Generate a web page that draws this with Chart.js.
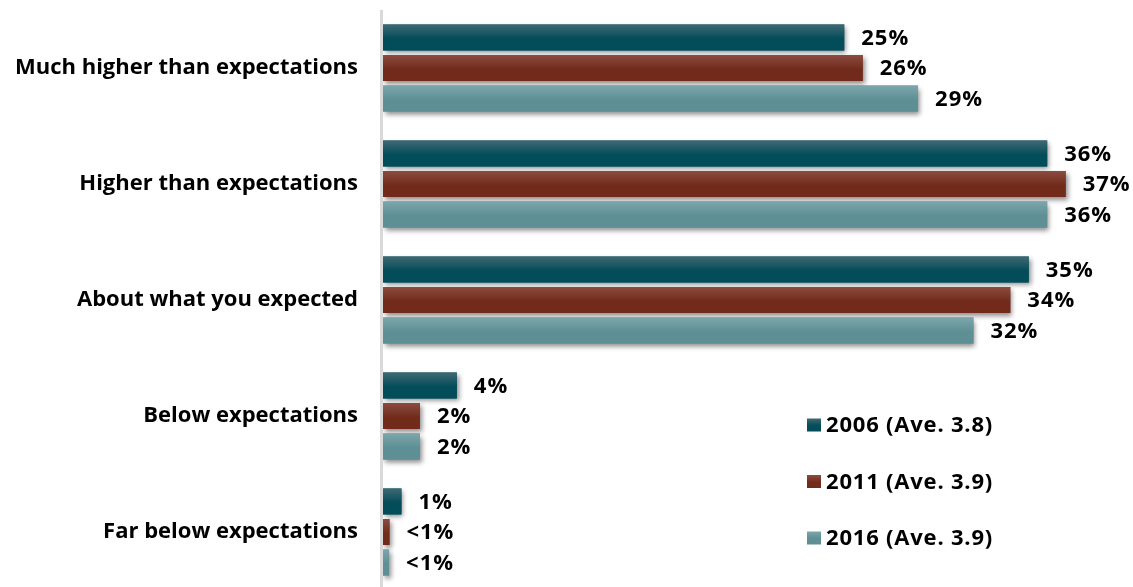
<!DOCTYPE html>
<html>
<head>
<meta charset="utf-8">
<script src="https://cdn.jsdelivr.net/npm/chart.js@4.4.1/dist/chart.umd.min.js"></script>
<style>
  html, body { margin: 0; padding: 0; overflow: hidden; background: #ffffff; }
  canvas { display: block; }
</style>
</head>
<body>
<canvas id="chart" width="1133" height="590"></canvas>
<script>
// Survey answers, one row per response option
const categories = [
  'Much higher than expectations',
  'Higher than expectations',
  'About what you expected',
  'Below expectations',
  'Far below expectations'
];
const seriesNames = ['2006 (Ave. 3.8)', '2011 (Ave. 3.9)', '2016 (Ave. 3.9)'];
const values2006 = [25, 36, 35, 4, 1];
const values2011 = [26, 37, 34, 2, 0.35];
const values2016 = [29, 36, 32, 2, 0.33];
const axisMax = 40;

// Bar fills: lighter at the top edge, deep tone below
const palette = [
  { top: '#406974', bottom: '#024d59' },
  { top: '#8b4c40', bottom: '#722b1b' },
  { top: '#7ca6ab', bottom: '#5d8f95' }
];
const FONT = "'Open Sans', 'Noto Sans', sans-serif";
const FONT_SIZE = 22;

function pctLabel(v) {
  return v < 1 ? '<1%' : Math.round(v) + '%';
}

function barGradient(ctx, top, height, colors) {
  const g = ctx.createLinearGradient(0, top, 0, top + height);
  g.addColorStop(0, colors.top);
  g.addColorStop(0.55, colors.bottom);
  g.addColorStop(1, colors.bottom);
  return g;
}

// Left axis rule, soft drop shadow under bars, gradient faces and value labels
const barDecor = {
  id: 'barDecor',
  beforeDatasetsDraw(chart) {
    const { ctx, chartArea } = chart;
    ctx.save();
    ctx.fillStyle = '#d9d9d9';
    ctx.fillRect(chartArea.left - 3, chartArea.top, 3, chartArea.bottom - chartArea.top);
    ctx.restore();
    ctx.save();
    ctx.shadowColor = 'rgba(0,0,0,0.45)';
    ctx.shadowBlur = 5;
    ctx.shadowOffsetX = 2;
    ctx.shadowOffsetY = 3;
  },
  afterDatasetsDraw(chart) {
    const { ctx } = chart;
    ctx.restore();
    ctx.save();
    chart.data.datasets.forEach((ds, di) => {
      const meta = chart.getDatasetMeta(di);
      meta.data.forEach((bar, i) => {
        const p = bar.getProps(['x', 'y', 'base', 'height'], true);
        const left = Math.min(p.base, p.x);
        const w = Math.abs(p.x - p.base);
        const top = p.y - p.height / 2;
        ctx.fillStyle = barGradient(ctx, top, p.height, palette[di]);
        ctx.fillRect(left, top, w, p.height);
        ctx.fillStyle = '#000000';
        ctx.font = 'bold ' + FONT_SIZE + 'px ' + FONT;
        ctx.letterSpacing = '1px';
        ctx.textAlign = 'left';
        ctx.textBaseline = 'middle';
        ctx.fillText(pctLabel(ds.data[i]), Math.max(p.base, p.x) + 17, p.y + 1);
      });
    });
    ctx.restore();
  }
};

// Legend placed in the open space at lower right
const sideLegend = {
  id: 'sideLegend',
  afterDraw(chart) {
    const { ctx } = chart;
    const x0 = 807, y0 = 425, step = 56.5;
    ctx.save();
    ctx.font = 'bold ' + FONT_SIZE + 'px ' + FONT;
    ctx.letterSpacing = '0.8px';
    ctx.textAlign = 'left';
    ctx.textBaseline = 'middle';
    chart.data.datasets.forEach((ds, di) => {
      const cy = y0 + di * step;
      ctx.fillStyle = barGradient(ctx, cy - 6.5, 13, palette[di]);
      ctx.fillRect(x0, cy - 6.5, 14, 13);
      ctx.fillStyle = '#000000';
      ctx.fillText(ds.label, x0 + 19, cy + 1);
    });
    ctx.restore();
  }
};

const datasets = [values2006, values2011, values2016].map((vals, di) => ({
  label: seriesNames[di],
  data: vals,
  backgroundColor: palette[di].bottom,
  borderWidth: 0,
  categoryPercentage: 0.79,
  barPercentage: 0.85
}));

new Chart(document.getElementById('chart'), {
  type: 'bar',
  data: { labels: categories, datasets },
  options: {
    indexAxis: 'y',
    responsive: false,
    animation: false,
    devicePixelRatio: 1,
    layout: { padding: { top: 10, right: 12, bottom: 0, left: 0 } },
    plugins: {
      legend: { display: false },
      tooltip: { enabled: false }
    },
    scales: {
      x: {
        display: false,
        min: 0,
        max: axisMax
      },
      y: {
        grid: { display: false, drawTicks: false },
        border: { display: false },
        afterFit(scale) {
          scale.width = 383;
          scale.paddingTop = 0;
          scale.paddingBottom = 0;
        },
        ticks: {
          color: '#000000',
          padding: 25,
          font: { family: FONT, size: FONT_SIZE, weight: 'bold' }
        }
      }
    }
  },
  plugins: [barDecor, sideLegend]
});
</script>
</body>
</html>
